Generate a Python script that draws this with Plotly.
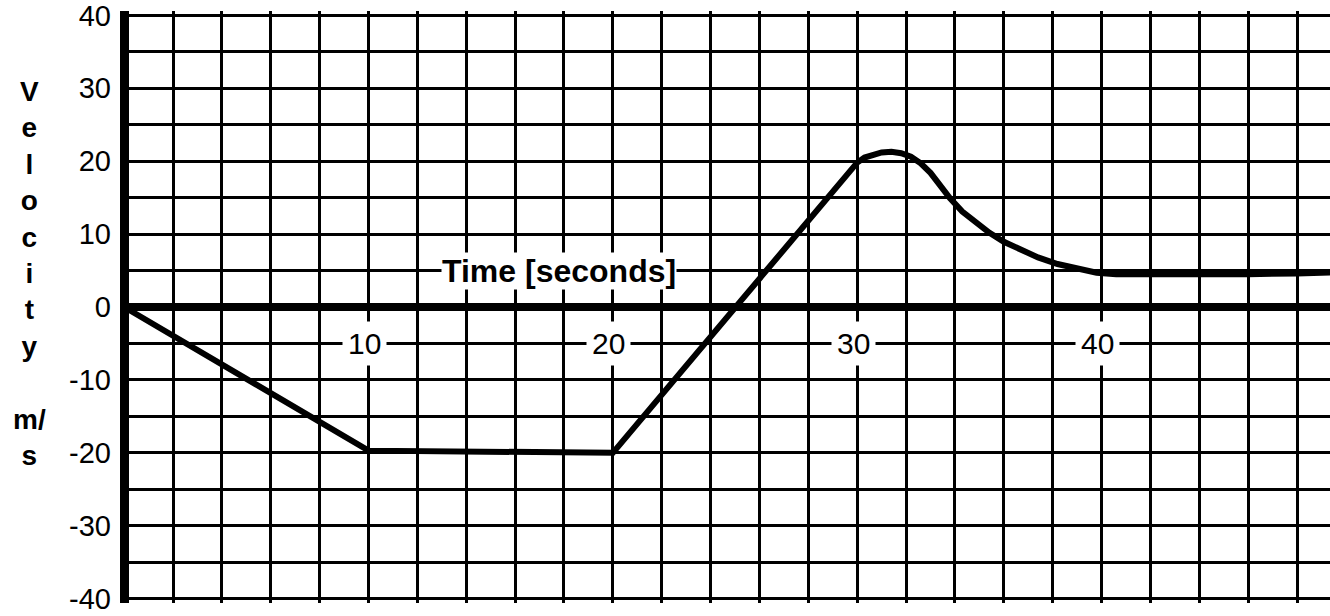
import plotly.graph_objects as go

# velocity trace (time in s, velocity in m/s)
time_s = [0, 10, 20, 30, 30.3, 30.7, 31.0, 31.4, 31.8, 32.2, 32.6, 33.0, 33.4, 33.8,
          34.3, 34.8, 35.4, 36.0, 36.7, 37.4, 38.2, 39.0, 39.8, 40.6, 41.6, 42.0,
          44, 46, 48, 49.4]
velocity = [0, -19.7, -20, 19.8, 20.5, 21.0, 21.2, 21.3, 21.1, 20.6, 19.7, 18.4, 16.6, 14.9,
            13.1, 11.7, 10.2, 8.95, 7.8, 6.8, 5.9, 5.2, 4.7, 4.5, 4.5, 4.35,
            4.4, 4.5, 4.6, 4.75]

x_labels = [10, 20, 30, 40]
x_label_row = -5  # labels sit on this grid row
y_ticks = [-40, -30, -20, -10, 0, 10, 20, 30, 40]
x_title = "Time [seconds]"
x_title_pos = (17.8, 5)
y_title = "V<br>e<br>l<br>o<br>c<br>i<br>t<br>y<br><br>m/<br>s"

FONT = "Liberation Sans, Arial, sans-serif"

fig = go.Figure()
fig.add_trace(
    go.Scatter(
        x=time_s,
        y=velocity,
        mode="lines",
        line=dict(color="black", width=6),
        hoverinfo="skip",
        showlegend=False,
    )
)

annotations = [
    dict(
        x=t, y=x_label_row, xref="x", yref="y",
        text=str(t), showarrow=False, xshift=-4,
        font=dict(family=FONT, size=30, color="black"),
        bgcolor="white", borderpad=5,
    )
    for t in x_labels
]
annotations.append(
    dict(
        x=x_title_pos[0], y=x_title_pos[1], xref="x", yref="y",
        text=f"<b>{x_title}</b>", showarrow=False,
        font=dict(family=FONT, size=32, color="black"),
        bgcolor="white", borderpad=0,
    )
)
annotations.append(
    dict(
        x=-0.0752, y=4.6, xref="paper", yref="y",
        xanchor="center", yanchor="middle",
        text=f"<b>{y_title}</b>", showarrow=False,
        font=dict(family=FONT, size=28, color="black"),
    )
)

fig.update_layout(
    width=1330,
    height=616,
    margin=dict(l=120, r=0, t=8, b=13),
    paper_bgcolor="white",
    plot_bgcolor="white",
    showlegend=False,
    annotations=annotations,
    xaxis=dict(
        range=[-0.17, 49.35],
        tick0=0,
        dtick=2,
        showgrid=True,
        gridcolor="black",
        gridwidth=3,
        zeroline=True,
        zerolinecolor="black",
        zerolinewidth=9,
        showline=False,
        showticklabels=False,
        ticks="",
    ),
    yaxis=dict(
        range=[-40.6, 40.6],
        tickmode="array",
        tickvals=y_ticks,
        ticktext=[str(v) for v in y_ticks],
        showgrid=True,
        gridcolor="black",
        gridwidth=3,
        minor=dict(tick0=0, dtick=5, showgrid=True, gridcolor="black", gridwidth=3),
        zeroline=True,
        zerolinecolor="black",
        zerolinewidth=8,
        showline=False,
        ticks="",
        ticklabelstandoff=8,
        ticklabeloverflow="allow",
        tickfont=dict(family=FONT, size=29, color="black"),
    ),
)

# drop the default page margin so the figure sits at the window's top-left corner
fig.write_html(
    "out.html",
    config={"displayModeBar": False},
    post_script="document.body.style.margin = '0';",
)
